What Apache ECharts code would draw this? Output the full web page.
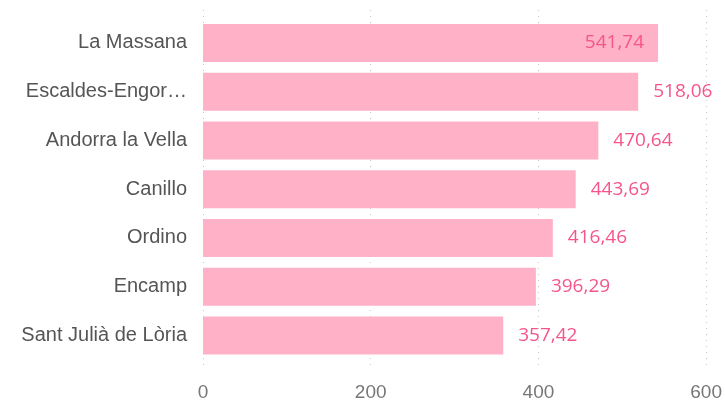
<!DOCTYPE html>
<html>
<head>
<meta charset="utf-8">
<script src="https://cdn.jsdelivr.net/npm/echarts@6/dist/echarts.min.js"></script>
<style>html,body{margin:0;padding:0;background:#fff}#c{width:725px;height:403px}</style>
</head>
<body>
<div id="c"></div>
<script>
const categories = ["La Massana", "Escaldes-Engordany", "Andorra la Vella", "Canillo", "Ordino", "Encamp", "Sant Julià de Lòria"];
const values = [541.74, 518.06, 470.64, 443.69, 416.46, 396.29, 357.42];
const xTicks = [0, 200, 400, 600];

const chart = echarts.init(document.getElementById('c'), null, {renderer: 'canvas'});
const fmt = v => v.toFixed(2).replace('.', ',');
const data = values.map((v, i) => {
  const d = {value: v};
  if (i === 0) d.label = {position: 'insideRight', distance: 14};
  return d;
});
chart.setOption({
  animation: false,
  grid: [
    {left: 203, right: 18, top: 18.6, height: 341.25},
    {left: 203, right: 18, top: 10, height: 360}
  ],
  xAxis: [
    {gridIndex: 0, type: 'value', min: 0, max: 600, interval: 200, show: false},
    {gridIndex: 1, type: 'value', min: xTicks[0], max: xTicks[xTicks.length - 1], interval: 200,
     axisLine: {show: false}, axisTick: {show: false},
     axisLabel: {color: '#777', fontSize: 19, fontFamily: 'Liberation Sans, Arial', margin: 13},
     splitLine: {show: true, lineStyle: {color: '#c8c8c8', type: [1, 5], width: 1}}}
  ],
  yAxis: [
    {gridIndex: 0, type: 'category', data: categories, inverse: true,
     axisLine: {show: false}, axisTick: {show: false},
     axisLabel: {color: '#555', fontSize: 20, fontFamily: 'Liberation Sans, Arial', margin: 16,
                 width: 168, overflow: 'truncate', ellipsis: '…'}},
    {gridIndex: 1, type: 'value', show: false}
  ],
  series: [{
    type: 'bar', xAxisIndex: 0, yAxisIndex: 0,
    data: data,
    barCategoryGap: '22%',
    itemStyle: {color: '#FFB1C7'},
    label: {show: true, position: 'right', distance: 15, color: '#F5558A', fontSize: 19,
            fontFamily: 'Open Sans, Noto Sans', formatter: p => fmt(p.value)}
  }]
});
</script>
</body>
</html>
